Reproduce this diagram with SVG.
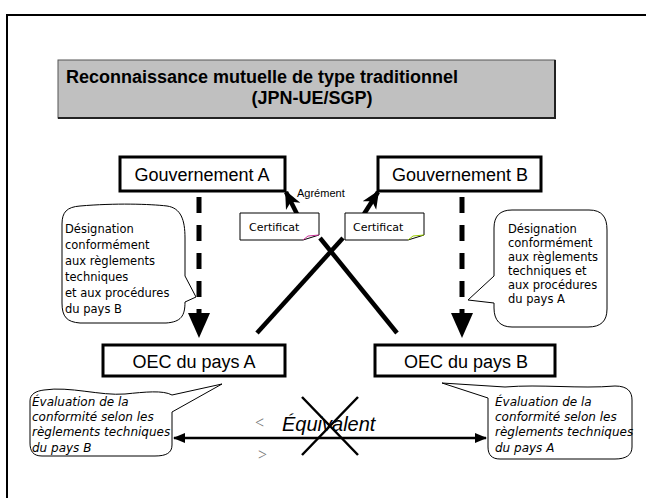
<svg xmlns="http://www.w3.org/2000/svg" width="646" height="498" viewBox="0 0 646 498">
<defs>
<marker id="ah" markerUnits="userSpaceOnUse" markerWidth="18" markerHeight="18" viewBox="0 0 18 18" refX="16" refY="9" orient="auto">
<path d="M0,1 L18,9 L0,17 L5,9 Z" fill="#000"/>
</marker>
<marker id="ahs" markerUnits="userSpaceOnUse" markerWidth="12" markerHeight="10" viewBox="0 0 12 10" refX="11" refY="5" orient="auto-start-reverse">
<path d="M0,0 L12,5 L0,10 Z" fill="#000"/>
</marker>
<style>
.box{fill:#fff;stroke:#000;stroke-width:3}
.big{font-family:"Liberation Sans",Arial,sans-serif;font-size:18px;fill:#000;text-anchor:middle}
.bub{fill:#fff;stroke:#000;stroke-width:1}
.t12{font-family:"DejaVu Sans",Tahoma,sans-serif;font-size:11.5px;fill:#000}
.cert{font-family:"DejaVu Sans",Tahoma,sans-serif;font-size:11px;fill:#000}
.it{font-family:"DejaVu Sans",Tahoma,sans-serif;font-size:12px;font-style:italic;fill:#000}
.dash{stroke:#000;stroke-width:5;stroke-dasharray:16 12;fill:none}
.thick{stroke:#000;stroke-width:4.5;fill:none}
</style>
</defs>
<rect width="646" height="498" fill="#fff"/>
<path d="M7,498 V15 H646" fill="none" stroke="#000" stroke-width="2"/>

<g id="title">
<rect x="58" y="60" width="497" height="58" fill="#c0c0c0" stroke="#555" stroke-width="1"/>
<path d="M58,118 H555 V60" fill="none" stroke="#222" stroke-width="2"/>
<text x="66" y="83" font-family="Liberation Sans,Arial,sans-serif" font-size="18" font-weight="bold">Reconnaissance mutuelle de type traditionnel</text>
<text x="312" y="104" font-family="Liberation Sans,Arial,sans-serif" font-size="18" font-weight="bold" text-anchor="middle">(JPN-UE/SGP)</text>
</g>

<g id="connectors">
<line x1="199" y1="197" x2="199" y2="314" class="dash"/>
<polygon points="188,313 210,313 199,338"/>
<line x1="462" y1="197" x2="462" y2="314" class="dash"/>
<polygon points="451,313 473,313 462,338"/>
<line x1="297" y1="214" x2="286" y2="192" class="thick" marker-end="url(#ah)"/>
<line x1="364" y1="214" x2="378" y2="192" class="thick" marker-end="url(#ah)"/>
<line x1="257" y1="333" x2="343" y2="238" class="thick"/>
<line x1="397" y1="333" x2="320" y2="238" class="thick"/>
<line x1="174" y1="438" x2="486" y2="438" stroke="#000" stroke-width="2.5" marker-start="url(#ahs)" marker-end="url(#ahs)"/>
</g>

<g id="gouvA">
<rect x="120" y="157" width="165" height="34" class="box"/>
<text x="202" y="181" class="big">Gouvernement A</text>
</g>
<g id="gouvB">
<rect x="378" y="157" width="163" height="34" class="box"/>
<text x="460" y="181" class="big">Gouvernement B</text>
</g>

<g id="agrement">
<text x="297" y="197" font-family="Liberation Sans,Arial,sans-serif" font-size="11">Agrément</text>
</g>

<g id="certA">
<path d="M240,213 H319 V235 L303,240 H240 Z" fill="#fff" stroke="#000" stroke-width="1"/>
<path d="M303,240 L308,236 L319,235" fill="none" stroke="#cc3399" stroke-width="1"/>
<text x="249" y="231" class="cert">Certificat</text>
</g>
<g id="certB">
<path d="M345,213 H424 V235 L408,240 H345 Z" fill="#fff" stroke="#000" stroke-width="1"/>
<path d="M408,240 L413,236 L424,235" fill="none" stroke="#99cc00" stroke-width="1"/>
<text x="353" y="231" class="cert">Certificat</text>
</g>

<g id="bubbleA">
<path d="M80,206 C115,203 150,204 167,206 C181,208 185,220 185,238 L185,276 L196,297 L185,302 C185,316 181,322 166,323 L80,323 C67,322 62,317 62,303 L62,224 C62,212 67,207 80,206 Z" class="bub"/>
<text class="t12"><tspan x="65" y="233">Désignation</tspan><tspan x="65" y="249">conformément</tspan><tspan x="65" y="265">aux règlements</tspan><tspan x="65" y="281">techniques</tspan><tspan x="65" y="297">et aux procédures</tspan><tspan x="65" y="313">du pays B</tspan></text>
</g>

<g id="bubbleB">
<path d="M512,210 L589,210 C602,210 607,217 607,230 L607,309 C607,321 601,327 588,327 L512,327 C500,327 494,320 494,308 L494,303 L468,300 L494,276 L494,228 C494,216 500,210 512,210 Z" class="bub"/>
<text class="t12"><tspan x="508" y="233">Désignation</tspan><tspan x="508" y="247">conformément</tspan><tspan x="508" y="261">aux règlements</tspan><tspan x="508" y="275">techniques et</tspan><tspan x="508" y="289">aux procédures</tspan><tspan x="508" y="303">du pays A</tspan></text>
</g>

<g id="oecA">
<rect x="103" y="345" width="182" height="31" class="box" stroke-width="2.5"/>
<text x="194" y="368" class="big">OEC du pays A</text>
</g>
<g id="oecB">
<rect x="375" y="345" width="180" height="31" class="box" stroke-width="2.5"/>
<text x="466" y="368" class="big">OEC du pays B</text>
</g>

<g id="evalA">
<path d="M44,390 C70,386 100,396 125,394 C145,392 163,390 172,395 L222,384 L172,412 L172,445 C172,453 166,456 155,456 L42,456 C33,456 30,451 30,443 L30,401 C30,394 36,391 44,390 Z" class="bub"/>
<text class="it"><tspan x="32" y="406">Évaluation de la</tspan><tspan x="32" y="421">conformité selon les</tspan><tspan x="32" y="436">règlements techniques</tspan><tspan x="32" y="452">du pays B</tspan></text>
</g>

<g id="evalB">
<path d="M505,387 C540,384 580,389 615,386 C628,386 632,392 632,400 L632,447 C632,455 626,459 615,459 L500,459 C492,459 488,455 488,447 L488,398 L442,383 Z" class="bub"/>
<text class="it"><tspan x="495" y="406">Évaluation de la</tspan><tspan x="495" y="421">conformité selon les</tspan><tspan x="495" y="436">règlements techniques</tspan><tspan x="495" y="452">du pays A</tspan></text>
</g>

<g id="equivalent">
<text x="255" y="428" font-family="Liberation Serif,serif" font-size="16" fill="#777">&lt;</text>
<text x="258" y="460" font-family="Liberation Serif,serif" font-size="16" fill="#777">&gt;</text>
<text x="282" y="431" font-family="Liberation Sans,Arial,sans-serif" font-size="20" font-style="italic">Équivalent</text>
<path d="M302,397 L358,455 M358,397 L302,455" stroke="#000" stroke-width="2.5"/>
</g>
</svg>
